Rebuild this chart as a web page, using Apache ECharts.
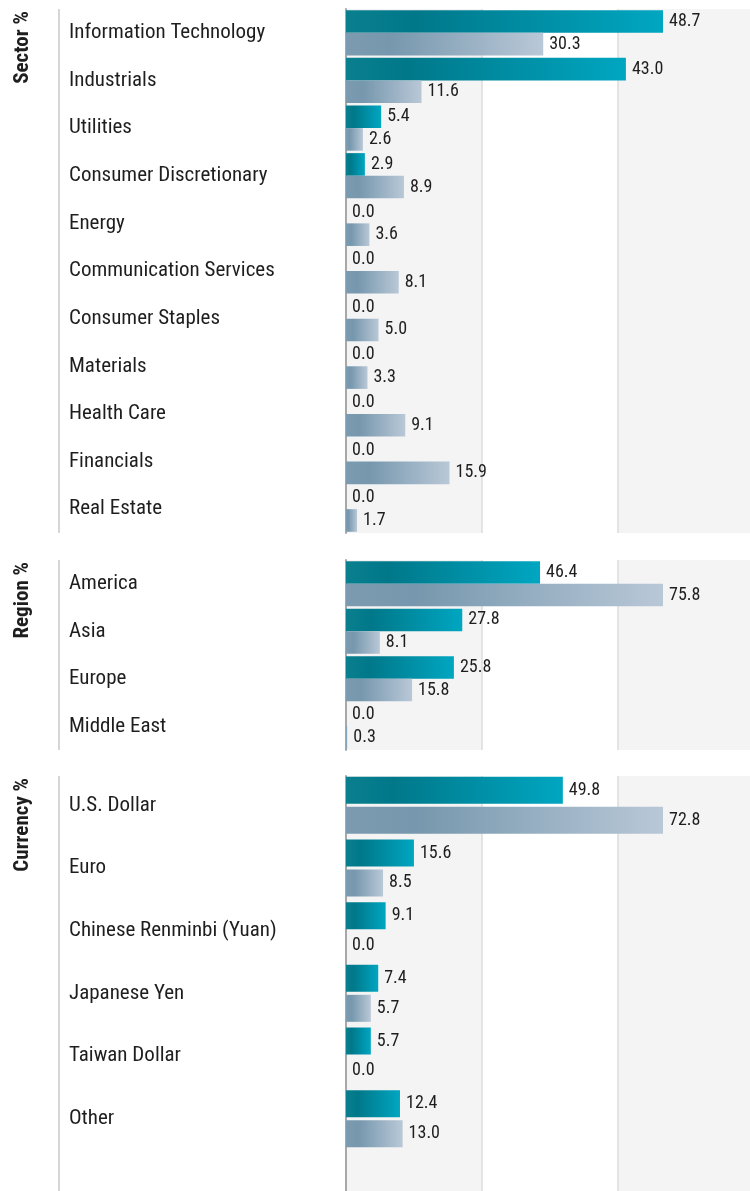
<!DOCTYPE html>
<html>
<head>
<meta charset="utf-8">
<script src="https://cdn.jsdelivr.net/npm/echarts@6/dist/echarts.min.js"></script>
<style>
  html, body { margin: 0; padding: 0; background: #fff; }
  #chart { width: 750px; height: 1191px; }
</style>
</head>
<body>
<div id="chart"></div>
<script>
const FONT = "'Roboto Condensed', 'Liberation Sans Narrow', 'DejaVu Sans Condensed', Roboto, sans-serif";

// data
const sectorNames = ['Information Technology', 'Industrials', 'Utilities', 'Consumer Discretionary', 'Energy',
  'Communication Services', 'Consumer Staples', 'Materials', 'Health Care', 'Financials', 'Real Estate'];
const sectorFund = [48.7, 43.0, 5.4, 2.9, 0.0, 0.0, 0.0, 0.0, 0.0, 0.0, 0.0];
const sectorIndex = [30.3, 11.6, 2.6, 8.9, 3.6, 8.1, 5.0, 3.3, 9.1, 15.9, 1.7];

const regionNames = ['America', 'Asia', 'Europe', 'Middle East'];
const regionFund = [46.4, 27.8, 25.8, 0.0];
const regionIndex = [75.8, 8.1, 15.8, 0.3];

const currencyNames = ['U.S. Dollar', 'Euro', 'Chinese Renminbi (Yuan)', 'Japanese Yen', 'Taiwan Dollar', 'Other'];
const currencyFund = [49.8, 15.6, 9.1, 7.4, 5.7, 12.4];
const currencyIndex = [72.8, 8.5, 0.0, 5.7, 0.0, 13.0];

const panelTitles = ['Sector %', 'Region %', 'Currency %'];

// layout for each panel: background area and bar area
const panels = [
  { names: sectorNames, fund: sectorFund, index: sectorIndex, bgTop: 9, bgH: 524, top: 9, h: 524, bw: 22.6, gap: '0%' },
  { names: regionNames, fund: regionFund, index: regionIndex, bgTop: 560, bgH: 190, top: 560, h: 190, bw: 22.6, gap: '0%' },
  { names: currencyNames, fund: currencyFund, index: currencyIndex, bgTop: 776, bgH: 420, top: 774, h: 376, bw: 27, gap: '11%' }
];

const tealGrad = new echarts.graphic.LinearGradient(0, 0, 1, 0, [
  { offset: 0, color: '#0a7f8e' },
  { offset: 0.22, color: '#00788a' },
  { offset: 1, color: '#00a6c1' }
]);
const greyGrad = new echarts.graphic.LinearGradient(0, 0, 1, 0, [
  { offset: 0, color: '#7c9bb1' },
  { offset: 0.22, color: '#7697ad' },
  { offset: 1, color: '#b9c8d7' }
]);

const grids = [], xAxes = [], yAxes = [], series = [], graphics = [];

panels.forEach((p, i) => {
  // background grid: three equal columns, grey / white / grey
  grids.push({ left: 346, width: 408, top: p.bgTop, height: p.bgH, outerBoundsMode: 'none' });
  xAxes.push({
    gridIndex: grids.length - 1, type: 'value', min: 0, max: 3, interval: 1,
    axisLine: { show: false }, axisTick: { show: false }, axisLabel: { show: false },
    splitLine: { show: true, lineStyle: { color: '#dcdcdc', width: 1.5 } },
    splitArea: { show: true, areaStyle: { color: ['#f4f4f4', '#ffffff'] } }
  });
  yAxes.push({
    gridIndex: grids.length - 1, type: 'value', min: 0, max: 1,
    axisLine: { show: true, onZero: false, lineStyle: { color: '#a8a8a8', width: 2 } },
    axisTick: { show: false }, axisLabel: { show: false }, splitLine: { show: false }
  });

  // bar grid
  const gi = grids.length;
  grids.push({ left: 346, width: 408, top: p.top, height: p.h, outerBoundsMode: 'none' });
  const maxVal = Math.max(...p.fund, ...p.index);
  xAxes.push({
    gridIndex: gi, type: 'value', min: 0, max: maxVal * 408 / 317, show: false
  });
  yAxes.push({
    gridIndex: gi, type: 'category', inverse: true, data: p.names,
    axisLine: { show: false }, axisTick: { show: false }, splitLine: { show: false },
    axisLabel: { align: 'left', margin: 277, fontSize: 21, color: '#1e1e1e', fontFamily: FONT, padding: [7, 0, 0, 0] }
  });

  const label = {
    show: true, position: 'right', distance: 6, fontSize: 18, color: '#1e1e1e', fontFamily: FONT,
    formatter: d => d.value.toFixed(1)
  };
  series.push({
    name: 'Fund', type: 'bar', xAxisIndex: gi, yAxisIndex: gi, data: p.fund,
    barWidth: p.bw, barGap: p.gap, itemStyle: { color: tealGrad }, label: label, silent: true
  });
  series.push({
    name: 'Benchmark', type: 'bar', xAxisIndex: gi, yAxisIndex: gi, data: p.index,
    barWidth: p.bw, barGap: p.gap, itemStyle: { color: greyGrad }, label: label, silent: true
  });

  // label column rule and rotated panel title
  graphics.push({
    type: 'line', shape: { x1: 59, y1: p.bgTop, x2: 59, y2: p.bgTop + p.bgH },
    style: { stroke: '#d6d6d6', lineWidth: 2 }
  });
  graphics.push({
    type: 'text', x: 23, y: p.bgTop + 2, rotation: Math.PI / 2,
    style: { text: panelTitles[i], font: 'bold 21px ' + FONT, fill: '#1e1e1e', align: 'right', verticalAlign: 'middle' }
  });
});

const chart = echarts.init(document.getElementById('chart'));
chart.setOption({
  animation: false,
  backgroundColor: '#fff',
  grid: grids,
  xAxis: xAxes,
  yAxis: yAxes,
  series: series,
  graphic: graphics
});
</script>
</body>
</html>
